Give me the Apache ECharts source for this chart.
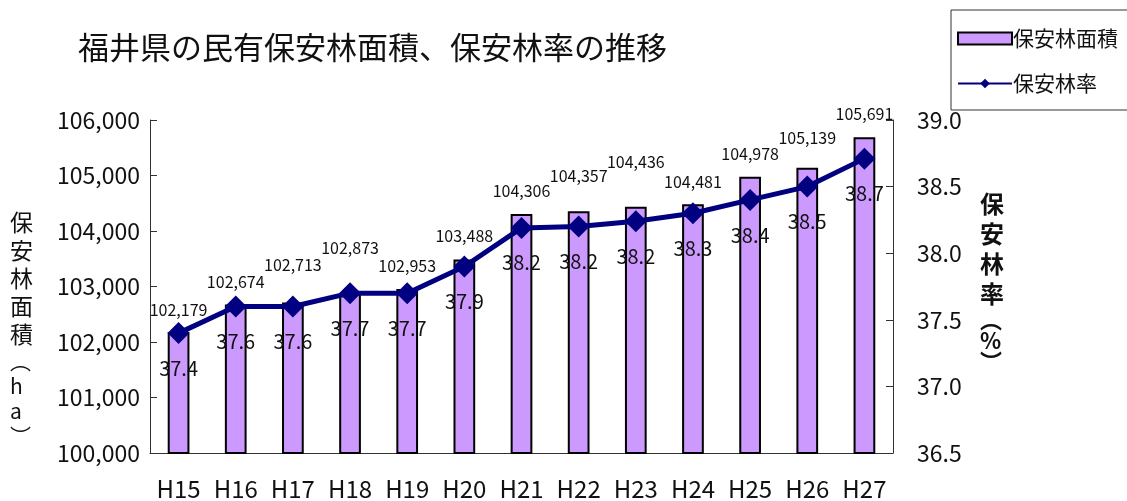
<!DOCTYPE html>
<html>
<head>
  <meta charset="utf-8">
  <title>福井県の民有保安林面積、保安林率の推移</title>
  <script src="https://cdn.jsdelivr.net/npm/echarts@6/dist/echarts.min.js"></script>
  <style>
    html, body { margin: 0; padding: 0; background: #fff; }
  </style>
</head>
<body>
  <div id="chartContainer" style="width: 1127px; height: 501px;"></div>

  <script>
    // data
    const years = ['H15', 'H16', 'H17', 'H18', 'H19', 'H20', 'H21', 'H22', 'H23', 'H24', 'H25', 'H26', 'H27'];
    const forestArea = [102179, 102674, 102713, 102873, 102953, 103488, 104306, 104357, 104436, 104481, 104978, 105139, 105691];
    const forestRate = [37.4, 37.6, 37.6, 37.7, 37.7, 37.9, 38.19, 38.2, 38.24, 38.3, 38.4, 38.5, 38.71];
    const areaTicks = [100000, 106000, 1000];
    const rateTicks = [36.5, 39.0, 0.5];

    // how far each bar value label sits above its bar (the original staggers them)
    const areaLabelGap = [14, 15, 30, 38, 15, 15, 15, 27, 37, 14, 15, 22, 15];

    const font = '"Noto Sans CJK JP", "Noto Sans", sans-serif';

    const myChart = echarts.init(document.getElementById('chartContainer'));

    const option = {
      animation: false,
      textStyle: { fontFamily: font },
      title: {
        text: '福井県の民有保安林面積、保安林率の推移',
        left: 73,
        top: 27,
        textStyle: { fontSize: 31, fontWeight: 'normal', color: '#111', fontFamily: font }
      },
      legend: {
        orient: 'vertical',
        left: 951,
        top: 10,
        padding: [18, 60, 16, 6],
        itemGap: 24,
        itemWidth: 54,
        itemHeight: 12,
        borderColor: '#333',
        borderWidth: 1,
        textStyle: { fontSize: 21, color: '#111', fontFamily: font, padding: [0, 0, 0, -4] },
        data: [
          { name: '保安林面積', icon: 'rect' },
          { name: '保安林率' }
        ]
      },
      grid: { left: 150, right: 234, top: 120, bottom: 48 },
      xAxis: {
        type: 'category',
        data: years,
        axisLine: { lineStyle: { color: '#333', width: 1 } },
        axisTick: { inside: true, length: 7, lineStyle: { color: '#333' } },
        axisLabel: { interval: 0, fontSize: 24, color: '#111', margin: 24 }
      },
      yAxis: [
        {
          type: 'value',
          min: areaTicks[0],
          max: areaTicks[1],
          interval: areaTicks[2],
          splitLine: { show: false },
          axisLine: { show: true, lineStyle: { color: '#333' } },
          axisTick: { show: true, inside: true, length: 7, lineStyle: { color: '#333' } },
          axisLabel: {
            fontSize: 23, color: '#111', margin: 10,
            formatter: v => v.toLocaleString('en-US')
          }
        },
        {
          type: 'value',
          min: rateTicks[0],
          max: rateTicks[1],
          interval: rateTicks[2],
          splitLine: { show: false },
          axisLine: { show: true, lineStyle: { color: '#333' } },
          axisTick: { show: true, inside: true, length: 7, lineStyle: { color: '#333' } },
          axisLabel: {
            fontSize: 23, color: '#111', margin: 24,
            formatter: v => v.toFixed(1)
          }
        }
      ],
      graphic: [
        {
          type: 'text',
          left: 10,
          top: 211,
          style: {
            text: '{k|保}\n{k|安}\n{k|林}\n{k|面}\n{k|積}\n{p|︵}\n{p|h}\n{p|a}\n{p|︶}',
            fill: '#111',
            align: 'center',
            rich: {
              k: { fontSize: 23, lineHeight: 28, fontFamily: font, fill: '#111' },
              p: { fontSize: 21, lineHeight: 25, fontFamily: font, fill: '#111' }
            }
          }
        },
        {
          type: 'text',
          left: 980,
          top: 192,
          style: {
            text: '{k|保}\n{k|安}\n{k|林}\n{k|率}\n{p|︵}\n{p|%}\n{p|︶}',
            fill: '#111',
            align: 'center',
            rich: {
              k: { fontSize: 24, lineHeight: 30, fontFamily: font, fontWeight: 'bold', fill: '#111' },
              p: { fontSize: 22, lineHeight: 21, fontFamily: font, fontWeight: 'bold', fill: '#111' }
            }
          }
        }
      ],
      series: [
        {
          name: '保安林面積',
          type: 'bar',
          yAxisIndex: 0,
          barWidth: '38%',
          data: forestArea.map((v, i) => ({ value: v, label: { distance: areaLabelGap[i] } })),
          itemStyle: { color: '#cc99ff', borderColor: '#000', borderWidth: 2 },
          label: {
            show: true,
            position: 'top',
            fontSize: 16,
            color: '#111',
            formatter: p => p.value.toLocaleString('en-US')
          },
          z: 2
        },
        {
          name: '保安林率',
          type: 'line',
          yAxisIndex: 1,
          data: forestRate,
          symbol: 'diamond',
          symbolSize: 22,
          lineStyle: { color: '#000080', width: 5 },
          itemStyle: { color: '#000080' },
          label: {
            show: true,
            position: 'bottom',
            distance: 14,
            fontSize: 20,
            color: '#111',
            formatter: p => p.value.toFixed(1)
          },
          z: 3
        }
      ]
    };

    myChart.setOption(option);
  </script>
</body>
</html>
